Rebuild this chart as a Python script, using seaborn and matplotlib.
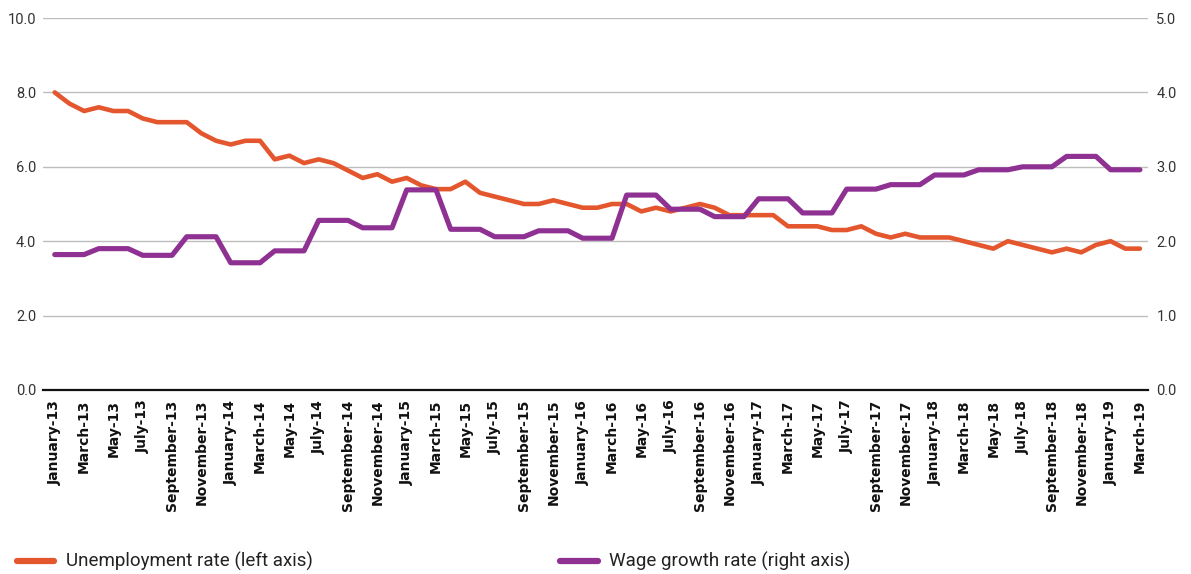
import pandas as pd
import seaborn as sns
import matplotlib.pyplot as plt
from matplotlib.lines import Line2D

# monthly categories, Jan 2013 - Mar 2019
months = pd.date_range("2013-01-01", "2019-03-01", freq="MS")
month_labels = [d.strftime("%B-%y") for d in months]

# unemployment rate (left axis)
unemployment = [8.0, 7.7, 7.5, 7.6, 7.5, 7.5, 7.3, 7.2, 7.2, 7.2, 6.9, 6.7,
                6.6, 6.7, 6.7, 6.2, 6.3, 6.1, 6.2, 6.1, 5.9, 5.7, 5.8, 5.6,
                5.7, 5.5, 5.4, 5.4, 5.6, 5.3, 5.2, 5.1, 5.0, 5.0, 5.1, 5.0,
                4.9, 4.9, 5.0, 5.0, 4.8, 4.9, 4.8, 4.9, 5.0, 4.9, 4.7, 4.7,
                4.7, 4.7, 4.4, 4.4, 4.4, 4.3, 4.3, 4.4, 4.2, 4.1, 4.2, 4.1,
                4.1, 4.1, 4.0, 3.9, 3.8, 4.0, 3.9, 3.8, 3.7, 3.8, 3.7, 3.9,
                4.0, 3.8, 3.8]

# wage growth rate (right axis)
wage_growth = [1.82, 1.82, 1.82, 1.90, 1.90, 1.90, 1.81, 1.81, 1.81, 2.06, 2.06, 2.06,
               1.71, 1.71, 1.71, 1.87, 1.87, 1.87, 2.28, 2.28, 2.28, 2.18, 2.18, 2.18,
               2.69, 2.69, 2.69, 2.16, 2.16, 2.16, 2.06, 2.06, 2.06, 2.14, 2.14, 2.14,
               2.04, 2.04, 2.04, 2.62, 2.62, 2.62, 2.43, 2.43, 2.43, 2.33, 2.33, 2.33,
               2.57, 2.57, 2.57, 2.38, 2.38, 2.38, 2.70, 2.70, 2.70, 2.76, 2.76, 2.76,
               2.89, 2.89, 2.89, 2.96, 2.96, 2.96, 3.00, 3.00, 3.00, 3.14, 3.14, 3.14,
               2.96, 2.96, 2.96]

orange = "#E4572E"
purple = "#8E3192"

sns.set_style("white")
plt.rcParams['font.family'] = ['Roboto', 'DejaVu Sans']

df = pd.DataFrame({"x": range(len(months)),
                   "unemployment": unemployment,
                   "wage": wage_growth})

fig = plt.figure(figsize=(11.91, 5.74), dpi=100)
ax = fig.add_axes([0.0361, 0.3206, 0.9278, 0.648])
ax2 = ax.twinx()

sns.lineplot(data=df, x="x", y="unemployment", ax=ax, color=orange, linewidth=3.3)
sns.lineplot(data=df, x="x", y="wage", ax=ax2, color=purple, linewidth=3.7)

ax.set_ylim(0, 10)
ax2.set_ylim(0, 5)
ax.set_yticks([0, 2, 4, 6, 8, 10])
ax2.set_yticks([0, 1, 2, 3, 4, 5])
ax.set_yticklabels([f"{v:.1f}" for v in [0, 2, 4, 6, 8, 10]], fontsize=10.5, color="#333333")
ax2.set_yticklabels([f"{v:.1f}" for v in [0, 1, 2, 3, 4, 5]], fontsize=10.5, color="#333333")
ax.set_xlim(-0.8, len(months) - 1 + 0.55)

ax.set_xticks(range(0, len(months), 2))
ax.set_xticklabels(month_labels[::2], rotation=90, fontsize=10, fontweight="bold",
                   color="#111111", family="DejaVu Sans")

ax.grid(axis="y", color="#BDBDBD", linewidth=1.0)
ax.set_axisbelow(True)
ax.set_xlabel("")
ax.set_ylabel("")
ax2.set_ylabel("")
for a in (ax, ax2):
    for s in ["left", "right", "top", "bottom"]:
        a.spines[s].set_visible(False)
ax.spines["bottom"].set_visible(True)
ax.spines["bottom"].set_color("#111111")
ax.spines["bottom"].set_linewidth(1.6)
ax.tick_params(axis="both", length=0)
ax.tick_params(axis="x", pad=7)
ax.tick_params(axis="y", pad=5)
ax2.tick_params(axis="y", length=0, pad=6)

handles = [Line2D([0], [0], color=orange, linewidth=4.5),
           Line2D([0], [0], color=purple, linewidth=4.5)]
fig.legend(handles, ["Unemployment rate (left axis)", "Wage growth rate (right axis)"],
           loc="lower left", bbox_to_anchor=(0.0, -0.025), ncol=2, frameon=False,
           prop={"family": "Roboto", "size": 13.5},
           handlelength=2.0, handletextpad=0.6, columnspacing=13.2,
           labelcolor="#222222")

fig.savefig("out.png", dpi=100)
